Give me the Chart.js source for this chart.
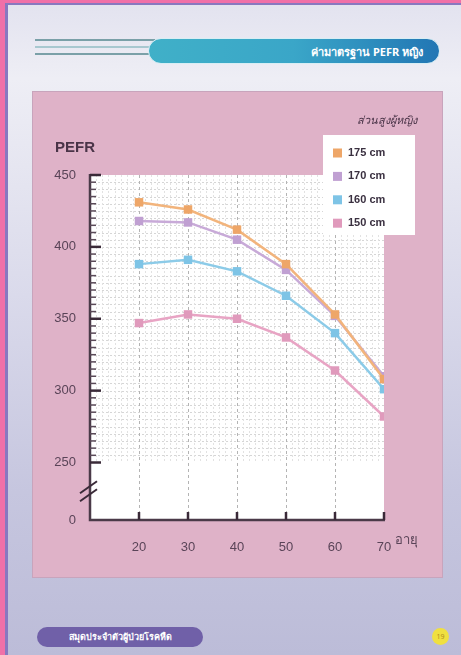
<!DOCTYPE html>
<html>
<head>
<meta charset="utf-8">
<script src="https://cdn.jsdelivr.net/npm/chart.js@4"></script>
<style>
  html, body { margin: 0; padding: 0; }
  body {
    width: 461px; height: 655px; position: relative; overflow: hidden;
    background: linear-gradient(180deg, #e2e2ef 0%, #eeeef5 12%, #dadaeb 45%, #c6c6df 75%, #bcbcd8 100%);
    font-family: "Noto Sans", "DejaVu Sans", sans-serif;
  }
  .border-left { position: absolute; left: 0; top: 0; width: 5px; height: 655px; background: #f070a8; }
  .border-left2 { position: absolute; left: 5px; top: 3px; width: 3px; height: 652px; background: #8878c0; }
  .border-top { position: absolute; left: 0; top: 0; width: 461px; height: 3px; background: #f070a8; }
  .border-top2 { position: absolute; left: 5px; top: 3px; width: 456px; height: 2px; background: #8878c0; }
  .lines { position: absolute; left: 35px; top: 39px; width: 120px; }
  .lines div { height: 2px; background: #7aa0a8; margin-bottom: 5px; }
  .lines div:nth-child(2) { background: #a8c8d0; }
  .pill {
    position: absolute; left: 148px; top: 38px; width: 292px; height: 26px;
    border-radius: 13px; border: 1px solid #d8eef4;
    background: linear-gradient(90deg, #40b0c8 0%, #3aa6c8 50%, #2276b4 100%);
    color: #fff; font-weight: bold; font-size: 11px; text-align: right;
    line-height: 26px; padding-right: 16px; box-sizing: border-box;
  }
  #box {
    position: absolute; left: 33px; top: 92px; width: 409px; height: 485px;
    background: #dfb2c8; box-shadow: 0 0 0 1px #c8a4bc;
  }
  .foot {
    position: absolute; left: 37px; top: 627px; width: 166px; height: 20px;
    border-radius: 10px; background: #7060a8; color: #fff; font-size: 9px;
    font-weight: bold; text-align: center; line-height: 20px;
  }
  .page {
    position: absolute; left: 432px; top: 628px; width: 17px; height: 17px;
    border-radius: 50%; background: #f0e040; color: #b09020; font-size: 7px;
    text-align: center; line-height: 17px;
  }
</style>
</head>
<body>
<div class="border-top"></div>
<div class="border-left"></div>
<div class="border-top2"></div>
<div class="border-left2"></div>
<div class="lines"><div></div><div></div><div></div></div>
<div class="pill">ค่ามาตรฐาน PEFR หญิง</div>
<div id="box"><canvas id="chart" width="409" height="485"></canvas></div>
<div class="foot">สมุดประจำตัวผู้ป่วยโรคหืด</div>
<div class="page">19</div>

<script>
const ages = [20, 30, 40, 50, 60, 70];
const h175 = [431, 426, 412, 388, 353, 308];
const h170 = [418, 417, 405, 384, 352, 310];
const h160 = [388, 391, 383, 366, 340, 301];
const h150 = [347, 353, 350, 337, 314, 282];
const heightLabels = ["175 cm", "170 cm", "160 cm", "150 cm"];
const yTickValues = [250, 300, 350, 400, 450];
const xTickValues = [20, 30, 40, 50, 60, 70];
const yBreakValue = 210; // shown as "0" under the axis break
const yBreakLabel = "0";

const points = (vals) => vals.map((v, i) => ({ x: ages[i], y: v }));

function series(label, vals, line, mark) {
  return {
    label: label,
    data: points(vals),
    borderColor: line,
    backgroundColor: mark,
    borderWidth: 2.5,
    pointStyle: "rect",
    pointRadius: 6,
    pointBackgroundColor: mark,
    pointBorderWidth: 0,
    tension: 0,
  };
}

//Paper grid, inner ticks, axis break and extra texts
const paper = {
  id: "paper",
  beforeDatasetsDraw(chart) {
    const ctx = chart.ctx;
    const x = chart.scales.x;
    const y = chart.scales.y;
    const a = chart.chartArea;
    ctx.save();
    ctx.fillStyle = "#ffffff";
    ctx.fillRect(a.left, a.top, a.right - a.left, a.bottom - a.top);

    // fine dotted grid above 250
    ctx.strokeStyle = "#d6d6d6";
    ctx.lineWidth = 1;
    ctx.setLineDash([2, 2]);
    for (let v = 255; v < 450; v += 5) {
      const py = Math.round(y.getPixelForValue(v)) + 0.5;
      ctx.beginPath(); ctx.moveTo(a.left, py); ctx.lineTo(a.right, py); ctx.stroke();
    }
    ctx.strokeStyle = "#e2e2e2";
    for (let v = 11.25; v < 70; v += 1.25) {
      if (v % 10 === 0) continue;
      const px = Math.round(x.getPixelForValue(v)) + 0.5;
      ctx.beginPath(); ctx.moveTo(px, y.getPixelForValue(450)); ctx.lineTo(px, y.getPixelForValue(250)); ctx.stroke();
    }
    // dashed major verticals to the axis
    ctx.strokeStyle = "#b4b4b4";
    ctx.setLineDash([3, 3]);
    xTickValues.slice(0, -1).forEach((v) => {
      const px = Math.round(x.getPixelForValue(v)) + 0.5;
      ctx.beginPath(); ctx.moveTo(px, a.top); ctx.lineTo(px, a.bottom); ctx.stroke();
    });
    ctx.setLineDash([]);

    // axes
    ctx.strokeStyle = "#4a3a48";
    ctx.lineWidth = 2.5;
    ctx.beginPath();
    ctx.moveTo(a.left, a.top - 1);
    ctx.lineTo(a.left, a.bottom);
    ctx.lineTo(x.getPixelForValue(70) + 1, a.bottom);
    ctx.stroke();

    // y ticks inside
    for (let v = 250; v <= 450; v += 5) {
      const py = y.getPixelForValue(v);
      const major = v % 50 === 0;
      ctx.lineWidth = major ? 2.5 : 1.5;
      ctx.strokeStyle = major ? "#3a2a38" : "#5a4a58";
      ctx.beginPath(); ctx.moveTo(a.left, py); ctx.lineTo(a.left + (major ? 11 : 6), py); ctx.stroke();
    }
    // x ticks inside
    ctx.lineWidth = 2.5;
    ctx.strokeStyle = "#3a2a38";
    xTickValues.forEach((v) => {
      const px = x.getPixelForValue(v);
      ctx.beginPath(); ctx.moveTo(px, a.bottom); ctx.lineTo(px, a.bottom - 8); ctx.stroke();
    });

    // axis break
    const by = y.getPixelForValue(230);
    ctx.lineWidth = 2;
    ctx.strokeStyle = "#3a2a38";
    [-4, 4].forEach((d) => {
      ctx.beginPath();
      ctx.moveTo(a.left - 10, by + d + 6);
      ctx.lineTo(a.left + 7, by + d - 6);
      ctx.stroke();
    });

    // texts
    ctx.fillStyle = "#4a3448";
    ctx.font = "bold 15px 'Liberation Sans', sans-serif";
    ctx.textAlign = "left";
    ctx.textBaseline = "alphabetic";
    ctx.fillText("PEFR", 22, 60);
    ctx.font = "13px 'Liberation Sans', sans-serif";
    ctx.fillStyle = "#5a4458";
    ctx.textBaseline = "middle";
    ctx.fillText("อายุ", x.getPixelForValue(70) + 11, a.bottom + 20);
    ctx.restore();
  },
  afterDraw(chart) {
    // legend box in the top right corner
    const ctx = chart.ctx;
    ctx.save();
    ctx.fillStyle = "#ffffff";
    ctx.fillRect(290, 43, 92, 100);
    ctx.fillStyle = "#4a3448";
    ctx.font = "italic 11px 'Noto Sans', sans-serif";
    ctx.textAlign = "right";
    ctx.textBaseline = "middle";
    ctx.fillText("ส่วนสูงผู้หญิง", 384, 29);
    ctx.textAlign = "left";
    chart.data.datasets.forEach((ds, i) => {
      const cy = 61 + i * 23.4;
      ctx.fillStyle = ds.pointBackgroundColor;
      ctx.fillRect(300, cy - 4.5, 9, 9);
      ctx.fillStyle = "#3a3040";
      ctx.font = "bold 11px 'Liberation Sans', sans-serif";
      ctx.fillText(ds.label, 315, cy);
    });
    ctx.restore();
  },
};

const chart = document.querySelector("#chart").getContext("2d");

new Chart(chart, {
  type: "line",
  data: {
    datasets: [
      series(heightLabels[0], h175, "#f2b47c", "#eea668"),
      series(heightLabels[1], h170, "#c8aad8", "#c0a0d2"),
      series(heightLabels[2], h160, "#8ccbe8", "#7ec4e6"),
      series(heightLabels[3], h150, "#e8a4c4", "#e09abc"),
    ],
  },
  options: {
    responsive: false,
    animation: false,
    layout: { padding: { top: 83, right: 58, left: 0, bottom: 0 } },
    plugins: { legend: { display: false }, tooltip: { enabled: false } },
    scales: {
      x: {
        type: "linear",
        min: 10,
        max: 70,
        afterFit: (s) => { s.height = 57; },
        afterBuildTicks: (s) => { s.ticks = xTickValues.map((v) => ({ value: v })); },
        grid: { display: false },
        border: { display: false },
        ticks: {
          padding: 12,
          autoSkip: false,
          maxRotation: 0,
          color: "#5a4458",
          font: { family: "Liberation Sans", size: 13 },
        },
      },
      y: {
        type: "linear",
        min: yBreakValue,
        max: 450,
        afterFit: (s) => { s.width = 57; },
        afterBuildTicks: (s) => {
          s.ticks = [yBreakValue].concat(yTickValues).map((v) => ({ value: v }));
        },
        grid: { display: false },
        border: { display: false },
        ticks: {
          padding: 6,
          autoSkip: false,
          color: "#5a4458",
          font: { family: "Liberation Sans", size: 13 },
          callback: (v) => (v === yBreakValue ? yBreakLabel : v),
        },
      },
    },
  },
  plugins: [paper],
});
</script>
</body>
</html>
